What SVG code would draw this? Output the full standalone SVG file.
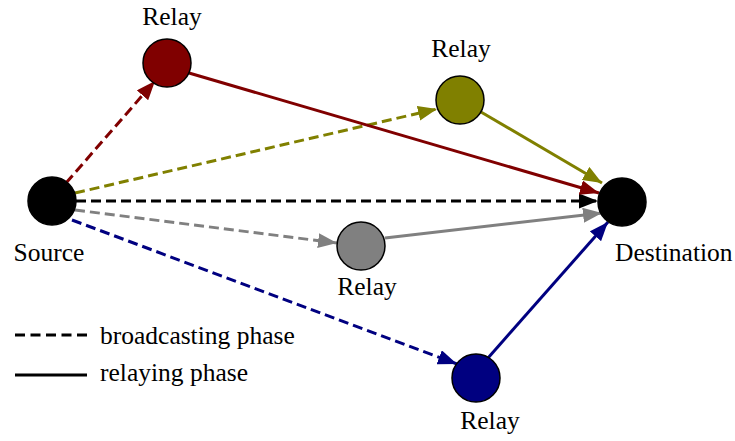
<svg xmlns="http://www.w3.org/2000/svg" width="735" height="441" viewBox="0 0 735 441">
<style>
  text { font-family: "Liberation Serif", "Times New Roman", serif; font-size: 25.5px; fill: #000; }
  .node { stroke: #000; stroke-width: 1.5; }
  .c { fill: none; stroke-width: 3; }
  .d { stroke-dasharray: 10 5; }
  .red { stroke: #800000; }
  .olive { stroke: #808000; }
  .gray { stroke: #808080; }
  .blue { stroke: #000080; }
  .blk { stroke: #000; }
</style>
<defs>
  <marker id="aRed" viewBox="0 0 19 15" refX="19" refY="7.5" markerWidth="19" markerHeight="15" markerUnits="userSpaceOnUse" orient="auto"><path d="M0,0 L19,7.5 L0,15 z" fill="#800000"/></marker>
  <marker id="aOlive" viewBox="0 0 19 15" refX="19" refY="7.5" markerWidth="19" markerHeight="15" markerUnits="userSpaceOnUse" orient="auto"><path d="M0,0 L19,7.5 L0,15 z" fill="#808000"/></marker>
  <marker id="aGray" viewBox="0 0 19 15" refX="19" refY="7.5" markerWidth="19" markerHeight="15" markerUnits="userSpaceOnUse" orient="auto"><path d="M0,0 L19,7.5 L0,15 z" fill="#808080"/></marker>
  <marker id="aBlue" viewBox="0 0 19 15" refX="19" refY="7.5" markerWidth="19" markerHeight="15" markerUnits="userSpaceOnUse" orient="auto"><path d="M0,0 L19,7.5 L0,15 z" fill="#000080"/></marker>
  <marker id="aBlk" viewBox="0 0 19 15" refX="19" refY="7.5" markerWidth="19" markerHeight="15" markerUnits="userSpaceOnUse" orient="auto"><path d="M0,0 L19,7.5 L0,15 z" fill="#000"/></marker>
</defs>
<rect width="735" height="441" fill="#fff"/>
<g id="connectors">
  <line class="c d red" x1="66" y1="183" x2="155" y2="81" marker-end="url(#aRed)"/>
  <line class="c d olive" x1="75" y1="193" x2="437" y2="109" marker-end="url(#aOlive)"/>
  <line class="c d blk" x1="76" y1="201" x2="598" y2="201" marker-end="url(#aBlk)"/>
  <line class="c d gray" x1="75" y1="210" x2="337" y2="243" marker-end="url(#aGray)"/>
  <line class="c d blue" x1="72" y1="220" x2="457" y2="364" marker-end="url(#aBlue)"/>
  <line class="c red" x1="189" y1="73" x2="599" y2="193" marker-end="url(#aRed)"/>
  <line class="c olive" x1="481" y1="112" x2="602" y2="183" marker-end="url(#aOlive)"/>
  <line class="c gray" x1="385" y1="238" x2="602" y2="213" marker-end="url(#aGray)"/>
  <line class="c blue" x1="488" y1="358" x2="608" y2="222" marker-end="url(#aBlue)"/>
</g>
<g id="source">
  <circle class="node" cx="52" cy="201" r="24" fill="#000"/>
  <text x="49" y="261" text-anchor="middle">Source</text>
</g>
<g id="destination">
  <circle class="node" cx="622" cy="202" r="24" fill="#000"/>
  <text x="615" y="261">Destination</text>
</g>
<g id="relay1">
  <circle class="node" cx="167" cy="63" r="24" fill="#800000"/>
  <text x="172" y="25" text-anchor="middle">Relay</text>
</g>
<g id="relay2">
  <circle class="node" cx="460" cy="100" r="24" fill="#808000"/>
  <text x="461" y="57" text-anchor="middle">Relay</text>
</g>
<g id="relay3">
  <circle class="node" cx="361" cy="246" r="24" fill="#808080"/>
  <text x="367" y="295" text-anchor="middle">Relay</text>
</g>
<g id="relay4">
  <circle class="node" cx="476" cy="378" r="24" fill="#000080"/>
  <text x="490" y="429" text-anchor="middle">Relay</text>
</g>
<g id="legend">
  <line class="c blk" x1="15" y1="335" x2="87" y2="335" stroke-dasharray="10 5.5"/>
  <text x="100" y="344">broadcasting phase</text>
  <line class="c blk" x1="15" y1="375" x2="87" y2="375"/>
  <text x="100" y="381">relaying phase</text>
</g>
</svg>
